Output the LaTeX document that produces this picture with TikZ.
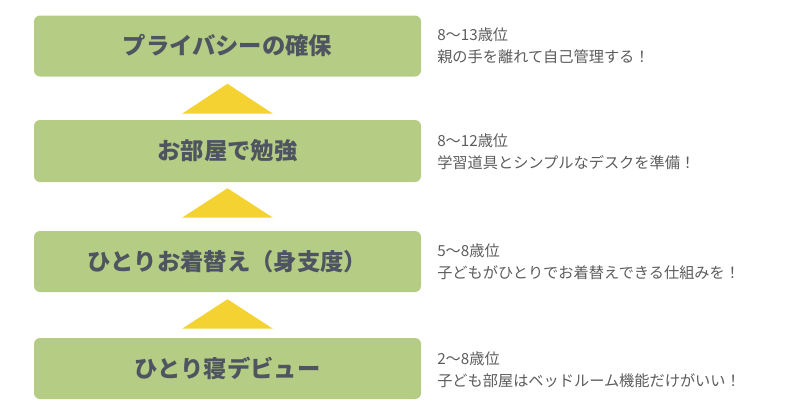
\documentclass[tikz,border=0pt]{standalone}
\usepackage{fontspec}
\usetikzlibrary{calc}
\newfontfamily\jp{Noto Sans CJK JP}
\definecolor{boxgreen}{HTML}{B5CC85}
\definecolor{boxtext}{HTML}{4E5561}
\definecolor{tri}{HTML}{F4D232}
\definecolor{note}{HTML}{5C5C5C}
\begin{document}
\begin{tikzpicture}[x=0.75pt,y=-0.75pt,
  stage/.style={fill=boxgreen, rounded corners=4.5pt, minimum width=290.25pt,
    minimum height=45.75pt, inner sep=0pt, text=boxtext,
    font=\jp\bfseries\fontsize{17.5pt}{20pt}\selectfont},
  notebox/.style={anchor=west, align=left, inner sep=0pt, text=note,
    font=\jp\fontsize{11.4pt}{16.5pt}\selectfont},
  uptri/.style={fill=tri}]
\useasboundingbox (0,0) rectangle (800,418);
\node[stage] (b1) at (227.5,46) {プライバシーの確保};
\node[stage, minimum height=46.5pt] (b2) at (227.5,151) {お部屋で勉強};
\node[stage] (b3) at (227.5,261.5) {ひとりお着替え（身支度）};
\node[stage] (b4) at (227.5,368.5) {ひとり寝デビュー};
\node[notebox] (n1) at (437,46) {8〜13歳位\\親の手を離れて自己管理する！};
\node[notebox] (n2) at (437,152) {8〜12歳位\\学習道具とシンプルなデスクを準備！};
\node[notebox] (n3) at (437,262) {5〜8歳位\\子どもがひとりでお着替えできる仕組みを！};
\node[notebox] (n4) at (437,369.5) {2〜8歳位\\子ども部屋はベッドルーム機能だけがいい！};
\coordinate (t1) at ($(b1.south)+(0,7)$);
\fill[uptri] (t1) -- ($(b2.north)+(45.5,-6)$) -- ($(b2.north)+(-45.5,-6)$) -- cycle;
\coordinate (t2) at ($(b2.south)+(0,6)$);
\fill[uptri] (t2) -- ($(b3.north)+(45.5,-13)$) -- ($(b3.north)+(-45.5,-13)$) -- cycle;
\coordinate (t3) at ($(b3.south)+(0,7)$);
\fill[uptri] (t3) -- ($(b4.north)+(45.5,-9)$) -- ($(b4.north)+(-45.5,-9)$) -- cycle;
\end{tikzpicture}
\end{document}
